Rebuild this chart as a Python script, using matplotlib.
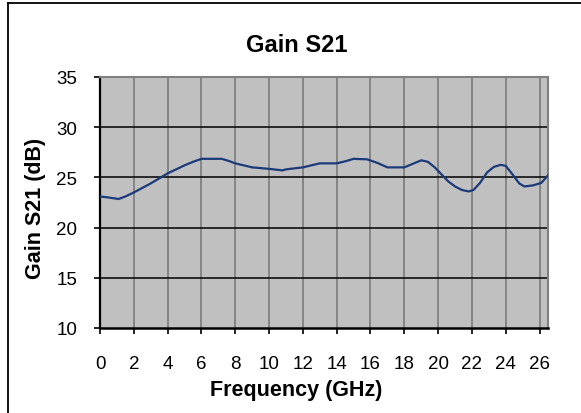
import matplotlib
matplotlib.use("Agg")
import matplotlib.pyplot as plt
from matplotlib.lines import Line2D

freq_ghz = [0, 0.5, 1.1, 1.5, 2.0, 3.0, 4.0, 5.0, 5.5, 6.0, 7.2, 7.6, 8.0, 9.0, 10.0, 10.8, 11.0,
            12.0, 13.0, 14.0, 14.5, 15.0, 15.8, 16.4, 17.0, 18.0, 18.5, 19.0, 19.4, 19.8, 20.2, 20.6,
            21.0, 21.4, 21.8, 22.1, 22.5, 22.9, 23.3, 23.7, 24.0, 24.4, 24.8, 25.1, 25.6, 26.1, 26.5]
gain_db = [23.1, 23.0, 22.85, 23.1, 23.5, 24.4, 25.4, 26.2, 26.55, 26.85, 26.85, 26.65, 26.4, 26.0, 25.85, 25.7, 25.8,
           26.0, 26.4, 26.4, 26.6, 26.85, 26.8, 26.45, 26.0, 26.0, 26.35, 26.7, 26.55, 26.0, 25.3, 24.6,
           24.1, 23.75, 23.6, 23.75, 24.5, 25.5, 26.05, 26.25, 26.15, 25.3, 24.4, 24.1, 24.2, 24.45, 25.2]
x_ticks = list(range(0, 27, 2))
y_ticks = [10, 15, 20, 25, 30, 35]

plt.rcParams['font.family'] = ['Liberation Sans', 'DejaVu Sans']

W, H = 581, 414
fig = plt.figure(figsize=(W / 100, H / 100), dpi=100)
L, R, T, B = 100, 548, 78, 329
ax = fig.add_axes([L / W, 1 - B / H, (R - L) / W, (B - T) / H])
ax.set_facecolor('#C0C0C0')

ax.plot(freq_ghz, gain_db, color='#1b3a7a', lw=1.6, zorder=3, solid_joinstyle='round')

ax.set_xlim(0, 26.5)
ax.set_ylim(10, 35)
ax.set_xticks(x_ticks)
ax.set_yticks(y_ticks)
ax.tick_params(axis='both', labelsize=13.5, direction='out', length=4.5, width=1.2, color='black')
ax.tick_params(axis='x', pad=15)
ax.tick_params(axis='y', pad=12)

for v in x_ticks[1:]:
    ax.axvline(v, color='#808080', lw=1.3, zorder=1)
for v in y_ticks[1:-1]:
    ax.axhline(v, color='black', lw=1.1, zorder=1)

ax.spines['left'].set_color('black')
ax.spines['bottom'].set_color('black')
ax.spines['left'].set_linewidth(1.6)
ax.spines['bottom'].set_linewidth(1.8)
ax.spines['top'].set_color('#808080')
ax.spines['right'].set_color('#808080')
ax.spines['top'].set_linewidth(1.5)
ax.spines['right'].set_linewidth(1.5)

fig.text(297 / W, 1 - 45 / H, 'Gain S21', ha='center', va='center', fontsize=17, fontweight='bold')
fig.text(296 / W, 1 - 391 / H, 'Frequency (GHz)', ha='center', va='center', fontsize=15.5, fontweight='bold')
fig.text(36 / W, 1 - 208 / H, 'Gain S21 (dB)', ha='center', va='center', rotation=90,
         fontsize=15.5, fontweight='bold')

# outer chart frame (left and top edges visible)
fig.add_artist(Line2D([8 / W, 8 / W], [0, 1 - 4 / H], transform=fig.transFigure, color='black', lw=1.3))
fig.add_artist(Line2D([8 / W, 1], [1 - 4 / H, 1 - 4 / H], transform=fig.transFigure, color='black', lw=1.3))

fig.savefig('out.png', dpi=100)
